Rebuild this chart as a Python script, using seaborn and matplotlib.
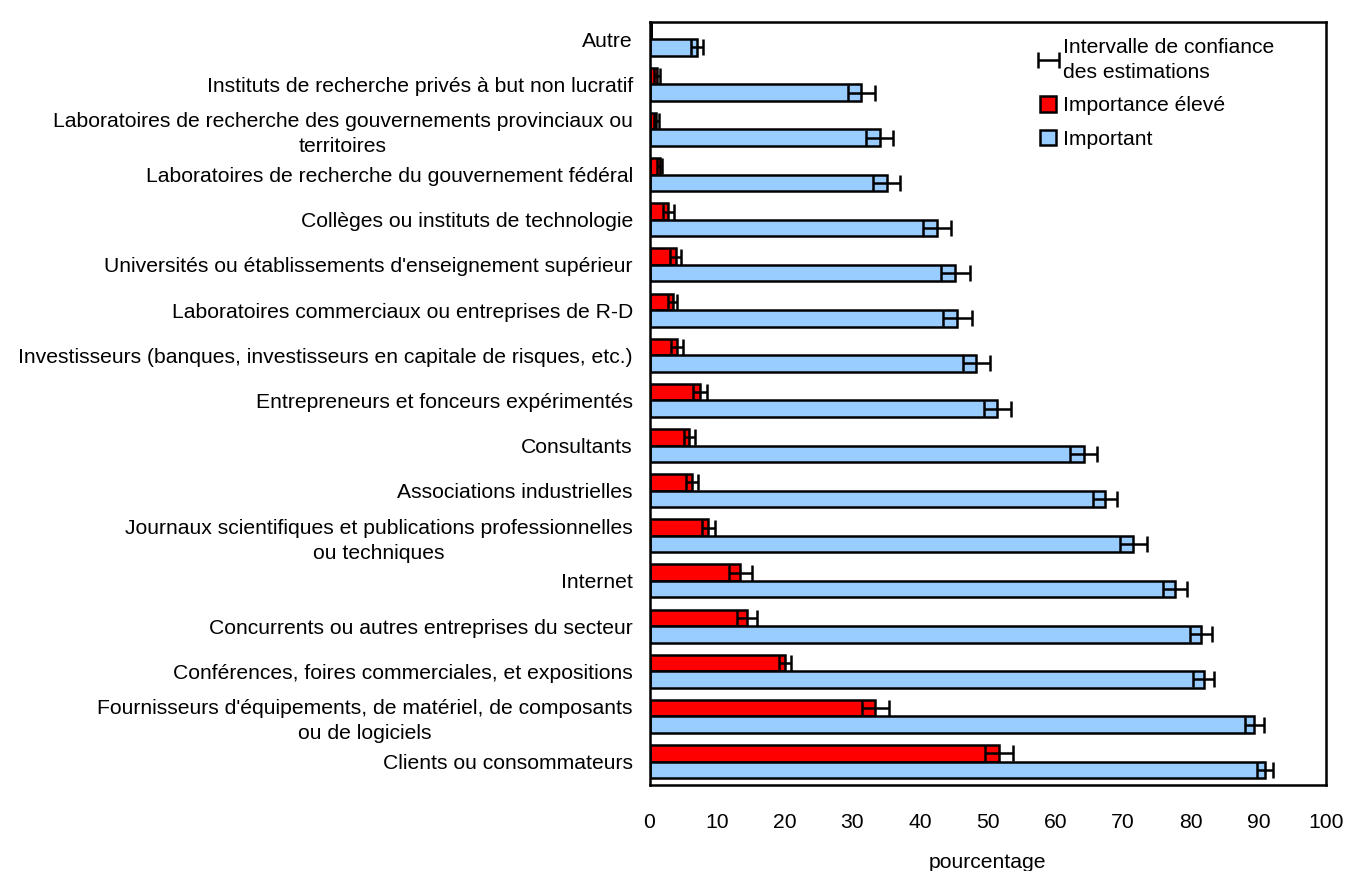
import numpy as np
import pandas as pd
import matplotlib
matplotlib.use("Agg")
import matplotlib.pyplot as plt
import seaborn as sns
from matplotlib.patches import Patch

categories = [
    "Autre",
    "Instituts de recherche privés à but non lucratif",
    "Laboratoires de recherche des gouvernements provinciaux ou\nterritoires",
    "Laboratoires de recherche du gouvernement fédéral",
    "Collèges ou instituts de technologie",
    "Universités ou établissements d'enseignement supérieur",
    "Laboratoires commerciaux ou entreprises de R-D",
    "Investisseurs (banques, investisseurs en capitale de risques, etc.)",
    "Entrepreneurs et fonceurs expérimentés",
    "Consultants",
    "Associations industrielles",
    "Journaux scientifiques et publications professionnelles\nou techniques",
    "Internet",
    "Concurrents ou autres entreprises du secteur",
    "Conférences, foires commerciales, et expositions",
    "Fournisseurs d'équipements, de matériel, de composants\nou de logiciels",
    "Clients ou consommateurs",
]

series_names = ["Importance élevé", "Important"]

eleve_values = [0.2, 1.1, 1.0, 1.5, 2.8, 3.9, 3.4, 4.1, 7.5, 5.9, 6.3, 8.7, 13.4, 14.4, 20.0, 33.4, 51.7]
eleve_err = [0.0, 0.4, 0.4, 0.4, 0.8, 0.8, 0.6, 0.9, 1.0, 0.8, 0.9, 1.0, 1.7, 1.5, 0.85, 2.0, 2.1]

important_values = [7.0, 31.3, 34.0, 35.1, 42.5, 45.2, 45.5, 48.3, 51.4, 64.2, 67.3, 71.5, 77.7, 81.5, 81.9, 89.4, 91.0]
important_err = [0.9, 2.0, 2.0, 2.0, 2.0, 2.1, 2.1, 2.0, 2.0, 2.0, 1.8, 2.0, 1.8, 1.6, 1.6, 1.4, 1.2]

x_ticks = [0, 10, 20, 30, 40, 50, 60, 70, 80, 90, 100]
x_label = "pourcentage"
ci_label = "Intervalle de confiance\ndes estimations"

colors = {"Importance élevé": "#FF0000", "Important": "#99CCFF"}

FS = 15.2

sns.set_style("white")
plt.rcParams["font.family"] = ["Liberation Sans", "DejaVu Sans"]
plt.rcParams["font.size"] = FS

df = pd.DataFrame({
    "cat": categories * 2,
    "serie": [series_names[0]] * len(categories) + [series_names[1]] * len(categories),
    "value": eleve_values + important_values,
})

fig = plt.figure(figsize=(13.45, 8.71), dpi=100)
ax = fig.add_axes([0.4829, 0.0987, 0.503, 0.876])

sns.barplot(data=df, x="value", y="cat", hue="serie", order=categories,
            hue_order=series_names, palette=colors, width=0.73, gap=0,
            saturation=1, errorbar=None, edgecolor="black", linewidth=1.8,
            orient="h", legend=False, ax=ax)

errs = [eleve_err, important_err]
err_container = None
for cont, err in zip(ax.containers, errs):
    xs = [p.get_width() for p in cont.patches]
    ys = [p.get_y() + p.get_height() / 2 for p in cont.patches]
    err_container = ax.errorbar(xs, ys, xerr=err, fmt="none", ecolor="black",
                                elinewidth=1.8, capsize=5.8, capthick=1.8, zorder=5)

ax.set_xlim(0, 100)
ax.set_ylim(16.52, -0.38)
ax.set_xticks(x_ticks)
ax.set_xticklabels([str(t) for t in x_ticks], fontsize=FS)
ax.tick_params(axis="x", direction="in", length=7, width=1.5, pad=20, colors="black")
ax.tick_params(axis="y", length=0, pad=12, colors="black")
for lbl in ax.get_yticklabels():
    lbl.set_fontsize(FS)
    lbl.set_multialignment("center")
    lbl.set_linespacing(1.4)
ax.set_ylabel("")
ax.set_xlabel(x_label, fontsize=FS, labelpad=15, color="black")

for s in ax.spines.values():
    s.set_visible(True)
    s.set_color("black")
    s.set_linewidth(1.8)

handles = [err_container,
           Patch(facecolor=colors[series_names[0]], edgecolor="black", linewidth=1.8),
           Patch(facecolor=colors[series_names[1]], edgecolor="black", linewidth=1.8)]
labels = [ci_label, series_names[0], series_names[1]]
leg = ax.legend(handles, labels, loc="upper left", bbox_to_anchor=(0.565, 0.99),
                frameon=False, fontsize=FS, handlelength=0.75, handleheight=0.75,
                handletextpad=0.35, labelspacing=0.68, borderaxespad=0)
for t in leg.get_texts():
    t.set_color("black")
    t.set_linespacing(1.38)

fig.savefig("out.png", dpi=100)
